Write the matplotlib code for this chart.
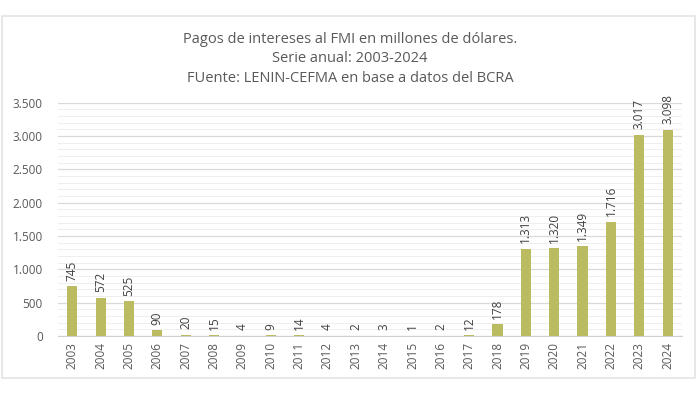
import numpy as np
import matplotlib.pyplot as plt
from matplotlib.patches import Rectangle

plt.rcParams['font.family'] = ['Open Sans', 'DejaVu Sans']

# datos
years = [str(y) for y in range(2003, 2025)]
pagos = [745, 572, 525, 90, 20, 15, 4, 9, 14, 4, 2, 3, 1, 2, 12, 178,
         1313, 1320, 1349, 1716, 3017, 3098]
yticks = [0, 500, 1000, 1500, 2000, 2500, 3000, 3500]

titulo = ("Pagos de intereses al FMI en millones de dólares.\n"
          "Serie anual: 2003-2024\n"
          "FUente: LENIN-CEFMA en base a datos del BCRA")


def fmt_miles(v):
    return f"{v:,}".replace(",", ".")


fig = plt.figure(figsize=(7, 3.94), dpi=100)
ax = fig.add_axes([0.083, 0.147, 0.891, 0.592])

x = np.arange(len(years))
ax.bar(x, pagos, width=0.36, color='#BBBC62', zorder=3)

for xi, v in zip(x, pagos):
    ax.annotate(fmt_miles(v), (xi, v), xytext=(0, 4), textcoords='offset points',
                rotation=90, ha='center', va='bottom', fontsize=8.5, color='#404040')

ax.set_xlim(-0.5, len(years) - 0.5)
ax.set_ylim(0, 3500)
ax.set_yticks(yticks)
ax.set_yticklabels([fmt_miles(v) for v in yticks])
ax.set_yticks(np.arange(0, 3501, 100), minor=True)
ax.set_xticks(x)
ax.set_xticklabels(years, rotation=90)

ax.grid(axis='y', which='major', color='#D9D9D9', linewidth=0.9, zorder=0)
ax.grid(axis='y', which='minor', color='#EEEEEE', linewidth=0.7, zorder=0)
for s in ['top', 'right', 'left']:
    ax.spines[s].set_visible(False)
ax.spines['bottom'].set_color('#D0D0D0')
ax.tick_params(axis='both', which='both', length=0, labelsize=8.5, colors='#595959')
ax.tick_params(axis='y', pad=11)
ax.tick_params(axis='x', pad=4)

fig.text(0.5, 0.92, titulo, ha='center', va='top', fontsize=10.5,
         color='#595959', linespacing=1.45)

# marco del grafico
fig.patches.append(Rectangle((0.003, 0.04), 0.99, 0.92, transform=fig.transFigure,
                             fill=False, edgecolor='#E4E4E4', linewidth=1.2))

fig.savefig('out.png', dpi=100, facecolor='white')
